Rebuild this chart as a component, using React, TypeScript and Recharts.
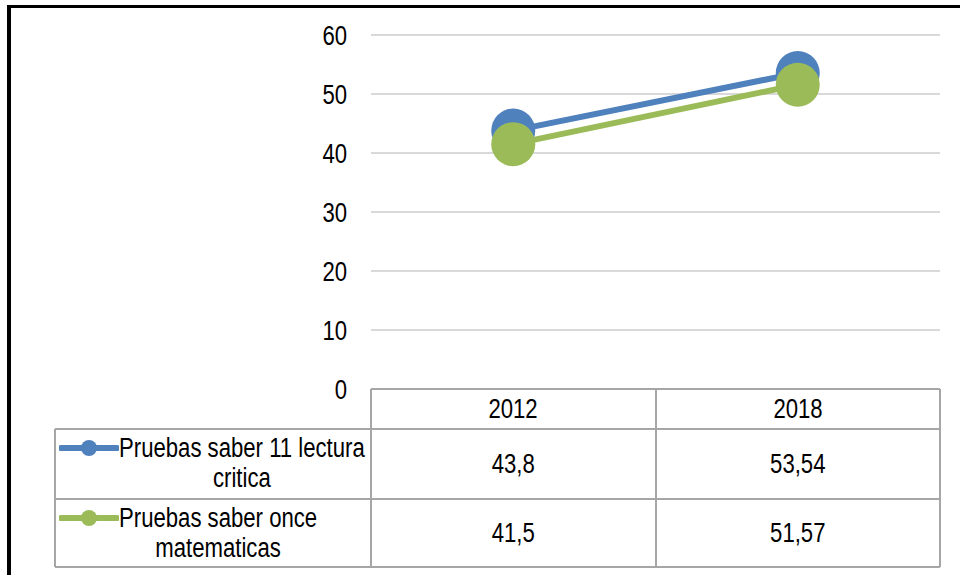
import { LineChart, Line, XAxis, YAxis, CartesianGrid } from 'recharts'

const CATEGORIES = ['2012', '2018']
const LECTURA = [43.8, 53.54]
const MATEMATICAS = [41.5, 51.57]
const Y_TICKS = [0, 10, 20, 30, 40, 50, 60]
const SERIES_LINES = [
  ['Pruebas saber 11 lectura', 'critica'],
  ['Pruebas saber once', 'matematicas'],
]
const SERIES_KEYS = ['lectura', 'matematicas']
const COLORS = ['#4F81BD', '#9BBB59']

// no Arial Narrow here, so squeeze Liberation Sans sideways
const FONT = "'Liberation Sans', Arial, sans-serif"
const FS = 27
const SQUEEZE = 0.82
const W = 960
const H = 575
const PLOT_LEFT = 371
const PLOT_RIGHT = 940
const PLOT_TOP = 35
const PLOT_BOTTOM = 389
const TABLE_LEFT = 55
const ROWS = [389, 429, 499, 567]
const GRID = '#a6a6a6'

const data = CATEGORIES.map((c, i) => ({ year: c, lectura: LECTURA[i], matematicas: MATEMATICAS[i] }))
const fmt = (v: number) => String(v).replace('.', ',')

function YTick({ x, y, payload }: any) {
  return (
    <text transform={`translate(${x},${y}) scale(${SQUEEZE},1)`} textAnchor="end" dy="0.36em"
      fill="#000" fontSize={FS} fontFamily={FONT}>{payload.value}</text>
  )
}

function Narrow({ children, origin = 'center' }: { children: any; origin?: string }) {
  return <span style={{ display: 'inline-block', transform: `scaleX(${SQUEEZE})`, transformOrigin: origin }}>{children}</span>
}

function HLine({ x1, x2, y }: { x1: number; x2: number; y: number }) {
  return <div style={{ position: 'absolute', left: x1, top: y - 1, width: x2 - x1, height: 2, background: GRID }} />
}
function VLine({ x, y1, y2 }: { x: number; y1: number; y2: number }) {
  return <div style={{ position: 'absolute', left: x - 1, top: y1, width: 2, height: y2 - y1, background: GRID }} />
}

function DataTable() {
  const colW = (PLOT_RIGHT - PLOT_LEFT) / CATEGORIES.length
  const colX = CATEGORIES.map((_, i) => PLOT_LEFT + i * colW)
  const cellText = { position: 'absolute' as const, fontFamily: FONT, fontSize: FS, color: '#000',
    display: 'flex', alignItems: 'center', justifyContent: 'center' }
  return (
    <>
      <HLine x1={PLOT_LEFT} x2={PLOT_RIGHT} y={ROWS[0]} />
      {ROWS.slice(1).map(y => <HLine key={y} x1={TABLE_LEFT} x2={PLOT_RIGHT} y={y} />)}
      <VLine x={TABLE_LEFT} y1={ROWS[1]} y2={ROWS[3]} />
      {[...colX, PLOT_RIGHT].map(x => <VLine key={x} x={x} y1={ROWS[0]} y2={ROWS[3]} />)}
      {CATEGORIES.map((c, i) => (
        <div key={c} style={{ ...cellText, left: colX[i], top: ROWS[0], width: colW, height: ROWS[1] - ROWS[0] }}>
          <Narrow>{c}</Narrow>
        </div>
      ))}
      {[LECTURA, MATEMATICAS].map((vals, r) => (
        <div key={r}>
          <div style={{ position: 'absolute', left: TABLE_LEFT + 4, top: ROWS[r + 1] + 4, display: 'flex', alignItems: 'flex-start' }}>
            <svg width={60} height={30} style={{ flex: 'none' }}>
              <line x1={2} y1={15} x2={58} y2={15} stroke={COLORS[r]} strokeWidth={6} strokeLinecap="round" />
              <circle cx={30} cy={15} r={8} fill={COLORS[r]} />
            </svg>
            <div style={{ fontFamily: FONT, fontSize: FS, lineHeight: '30px', textAlign: 'center', whiteSpace: 'nowrap',
              transform: `scaleX(${SQUEEZE})`, transformOrigin: 'left' }}>
              {SERIES_LINES[r].map(t => <div key={t}>{t}</div>)}
            </div>
          </div>
          {vals.map((v, i) => (
            <div key={i} style={{ ...cellText, left: colX[i], top: ROWS[r + 1], width: colW, height: ROWS[r + 2] - ROWS[r + 1] }}>
              <Narrow>{fmt(v)}</Narrow>
            </div>
          ))}
        </div>
      ))}
    </>
  )
}

export default function App() {
  const plotW = PLOT_RIGHT - PLOT_LEFT
  const pad = plotW / (2 * CATEGORIES.length)
  return (
    <div style={{ position: 'absolute', left: 0, top: 0, width: W, height: H, background: '#fff', overflow: 'hidden' }}>
      <div style={{ position: 'absolute', left: 7, top: 5, width: W, height: H, borderLeft: '4px solid #000', borderTop: '3px solid #000' }} />
      <div style={{ position: 'absolute', left: 0, top: 0 }}>
        <LineChart width={W} height={H} data={data}
          margin={{ top: PLOT_TOP, right: W - PLOT_RIGHT, bottom: H - PLOT_BOTTOM, left: 0 }}>
          <CartesianGrid vertical={false} stroke="#d9d9d9" strokeWidth={2} />
          <XAxis dataKey="year" hide padding={{ left: pad, right: pad }} />
          <YAxis width={PLOT_LEFT} domain={[0, 60]} ticks={Y_TICKS} axisLine={false} tickLine={false}
            tickSize={16} tickMargin={8} tick={<YTick />} />
          {SERIES_KEYS.map((k, i) => (
            <Line key={k} dataKey={k} stroke={COLORS[i]} strokeWidth={6}
              dot={{ r: 22, fill: COLORS[i], stroke: 'none' }} isAnimationActive={false} />
          ))}
        </LineChart>
      </div>
      <DataTable />
    </div>
  )
}
